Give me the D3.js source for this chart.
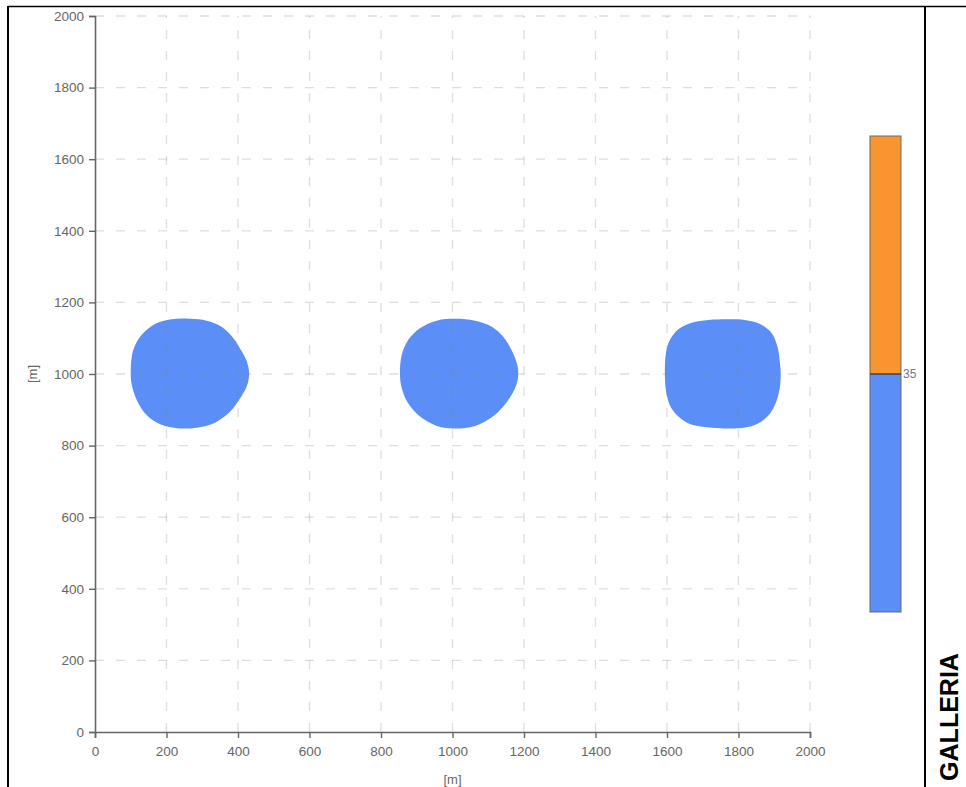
<!DOCTYPE html>
<html><head><meta charset="utf-8">
<script src="https://cdn.jsdelivr.net/npm/d3@7"></script>
<style>body{margin:0;background:#fff}svg{display:block}</style>
</head><body>
<script>
const xTicks = [0,200,400,600,800,1000,1200,1400,1600,1800,2000];
const yTicks = [0,200,400,600,800,1000,1200,1400,1600,1800,2000];
const blob1 = [[100,1005],[107,1067],[130,1109],[168,1140],[214,1153],[266,1154],[312,1149],[354,1132],[387,1100],[410,1064],[425,1034],[431,1001],[425,967],[406,932],[378,895],[336,864],[284,850],[238,848],[186,858],[145,885],[117,927],[103,969]];
const blob2 = [[853,1002],[858,1053],[876,1095],[909,1128],[956,1149],[1007,1154],[1063,1149],[1110,1132],[1142,1104],[1165,1067],[1180,1030],[1184,1002],[1180,974],[1165,941],[1142,909],[1110,879],[1063,855],[1007,848],[956,855],[909,881],[876,918],[858,960]];
const blob3 = [[1594,1002],[1597,1058],[1608,1095],[1632,1125],[1669,1143],[1716,1151],[1767,1153],[1818,1151],[1860,1140],[1893,1114],[1909,1076],[1916,1030],[1918,1002],[1916,965],[1907,927],[1888,890],[1855,862],[1814,850],[1762,848],[1711,851],[1664,860],[1632,881],[1608,913],[1597,955]];
const blobs = [blob1, blob2, blob3];
const legendMin = 0, legendMax = 70, legendThreshold = 35;
const legendLabel = "35";
const axisLabel = "[m]";
const sideLabel = "GALLERIA";

const W = 966, H = 787;
const FONT = "'Liberation Sans', Arial, sans-serif";
const svg = d3.select("body").append("svg").attr("width", W).attr("height", H);
const x = d3.scaleLinear().domain([0,2000]).range([95,810]);
const y = d3.scaleLinear().domain([0,2000]).range([732,16]);

// blobs
const line = d3.line().x(d=>x(d[0])).y(d=>y(d[1])).curve(d3.curveCatmullRomClosed.alpha(0.5));
svg.append("g").selectAll("path").data(blobs).join("path")
  .attr("d", line).attr("fill", "#5b8ef6").attr("stroke", "none");

// grid
const grid = svg.append("g").attr("stroke", "#8a8a8a").attr("stroke-opacity", 0.28)
  .attr("stroke-width", 1.3).attr("stroke-dasharray", "9,12");
grid.selectAll(".gx").data(xTicks.slice(1)).join("line")
  .attr("x1", d=>x(d)).attr("x2", d=>x(d)).attr("y1", y(0)).attr("y2", y(2000));
grid.selectAll(".gy").data(yTicks.slice(1)).join("line")
  .attr("y1", d=>y(d)).attr("y2", d=>y(d)).attr("x1", x(0)).attr("x2", x(2000));

// axes
const xAxis = svg.append("g").attr("transform", `translate(0,${y(0)})`)
  .call(d3.axisBottom(x).tickValues(xTicks).tickSize(6).tickPadding(8).tickFormat(d3.format("d")));
const yAxis = svg.append("g").attr("transform", `translate(${x(0)},0)`)
  .call(d3.axisLeft(y).tickValues(yTicks).tickSize(6).tickPadding(5).tickFormat(d3.format("d")));
[xAxis, yAxis].forEach(a => {
  a.select(".domain").attr("stroke", "#666").attr("stroke-width", 1.6);
  a.selectAll(".tick line").attr("stroke", "#666").attr("stroke-width", 1.4);
  a.selectAll("text").attr("fill", "#666").style("font-family", FONT).style("font-size", "13.5px");
});

svg.append("text").attr("x", x(1000)).attr("y", 784).attr("text-anchor", "middle")
  .attr("fill", "#666").style("font", `13px ${FONT}`).text(axisLabel);
svg.append("text").attr("transform", `translate(37,${y(1000)}) rotate(-90)`).attr("text-anchor", "middle")
  .attr("fill", "#666").style("font", `13px ${FONT}`).text(axisLabel);

// legend colour bar
const ly = d3.scaleLinear().domain([legendMin, legendMax]).range([612, 136]);
const lx = 870, lw = 31;
svg.append("rect").attr("x", lx).attr("y", ly(legendMax)).attr("width", lw)
  .attr("height", ly(legendThreshold)-ly(legendMax)).attr("fill", "#f8952e");
svg.append("rect").attr("x", lx).attr("y", ly(legendThreshold)).attr("width", lw)
  .attr("height", ly(legendMin)-ly(legendThreshold)).attr("fill", "#5b8ef6");
svg.append("rect").attr("x", lx).attr("y", ly(legendMax)).attr("width", lw)
  .attr("height", ly(legendMin)-ly(legendMax)).attr("fill", "none").attr("stroke", "#6a6a6a").attr("stroke-width", 1);
svg.append("line").attr("x1", lx).attr("x2", lx+lw).attr("y1", ly(legendThreshold)).attr("y2", ly(legendThreshold))
  .attr("stroke", "#333").attr("stroke-width", 1.3);
svg.append("text").attr("x", lx+lw+2).attr("y", ly(legendThreshold)+4)
  .attr("fill", "#777").style("font", `12px ${FONT}`).text(legendLabel);

// frame
svg.append("line").attr("x1", 8).attr("x2", W).attr("y1", 6.5).attr("y2", 6.5).attr("stroke", "#000").attr("stroke-width", 1.5);
svg.append("line").attr("x1", 8).attr("x2", 8).attr("y1", 6).attr("y2", H).attr("stroke", "#000").attr("stroke-width", 2);
svg.append("line").attr("x1", 925).attr("x2", 925).attr("y1", 6).attr("y2", H).attr("stroke", "#000").attr("stroke-width", 2);

svg.append("text").attr("transform", "translate(958,717) rotate(-90)").attr("text-anchor", "middle")
  .attr("fill", "#000").style("font", `bold 25px ${FONT}`).text(sideLabel);
</script>
</body></html>
